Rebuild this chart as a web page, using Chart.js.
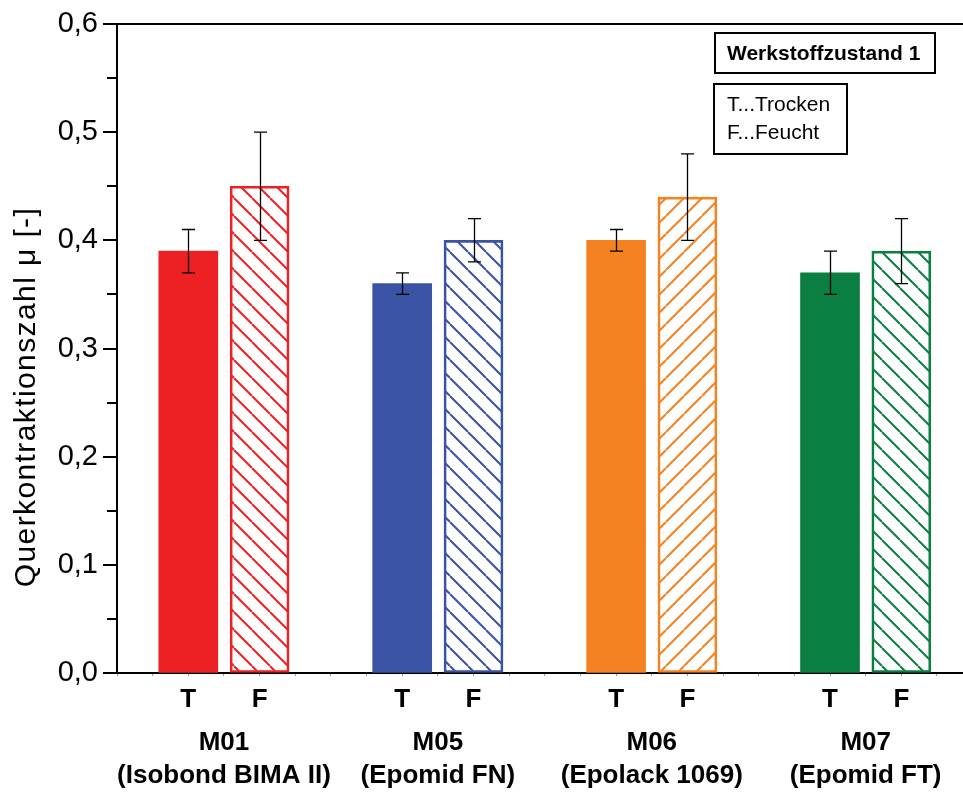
<!DOCTYPE html>
<html>
<head>
<meta charset="utf-8">
<script src="https://cdn.jsdelivr.net/npm/chart.js@4"></script>
<style>
html,body{margin:0;padding:0;background:#fff;}
#wrap{width:963px;height:793px;}
</style>
</head>
<body>
<div id="wrap"><canvas id="c" width="963" height="793"></canvas></div>
<script>
const categories = ['M01', 'M05', 'M06', 'M07'];
const materialNames = ['(Isobond BIMA II)', '(Epomid FN)', '(Epolack 1069)', '(Epomid FT)'];
const conditions = ['T', 'F'];
const trockenValues = [0.39, 0.36, 0.40, 0.37];
const trockenErrors = [0.02, 0.01, 0.01, 0.02];
const feuchtValues = [0.45, 0.40, 0.44, 0.39];
const feuchtErrors = [0.05, 0.02, 0.04, 0.03];
const yTickValues = [0, 0.1, 0.2, 0.3, 0.4, 0.5, 0.6];
const legendTitle = 'Werkstoffzustand 1';
const legendLines = ['T...Trocken', 'F...Feucht'];
const yTitle = 'Querkontraktionszahl \u03bc [-]';

const colors = ['#ED2024', '#3A53A4', '#F58220', '#0B7F42'];
const hatchDir = ['\\', '\\', '/', '\\'];
const FONT = "'Liberation Sans', Arial, sans-serif";

function makeHatch(color, dir) {
  const s = 18;
  const c = document.createElement('canvas');
  c.width = s; c.height = s;
  const g = c.getContext('2d');
  g.strokeStyle = color;
  g.lineWidth = 2;
  g.beginPath();
  for (let k = -1; k <= 1; k++) {
    if (dir === '\\') { g.moveTo(k * s, 0); g.lineTo(k * s + s, s); }
    else { g.moveTo(k * s, s); g.lineTo(k * s + s, 0); }
  }
  g.stroke();
  return g.createPattern(c, 'repeat');
}

// positions on the linear x axis: group i, condition j
function xPos(i, j) { return 2 + 6 * i + 2 * j; }

const points = [], bg = [], bc = [], bw = [], errs = [];
categories.forEach((cat, i) => {
  points.push({x: xPos(i, 0), y: trockenValues[i]});
  bg.push(colors[i]); bc.push(colors[i]); bw.push(0); errs.push(trockenErrors[i]);
  points.push({x: xPos(i, 1), y: feuchtValues[i]});
  bg.push(makeHatch(colors[i], hatchDir[i])); bc.push(colors[i]); bw.push(2); errs.push(feuchtErrors[i]);
});

const labelAt = {};
categories.forEach((cat, i) => {
  conditions.forEach((cond, j) => { labelAt[xPos(i, j)] = cond; });
});

const errorBars = {
  id: 'errorBars',
  afterDatasetsDraw(chart) {
    const ctx = chart.ctx, xs = chart.scales.x, ys = chart.scales.y;
    ctx.save();
    ctx.strokeStyle = '#000';
    ctx.lineWidth = 1.3;
    points.forEach((p, k) => {
      const px = Math.round(xs.getPixelForValue(p.x)) + 0.5;
      const yt = ys.getPixelForValue(p.y + errs[k]);
      const yb = ys.getPixelForValue(p.y - errs[k]);
      ctx.beginPath();
      ctx.moveTo(px, yt); ctx.lineTo(px, yb);
      ctx.moveTo(px - 6.5, yt); ctx.lineTo(px + 6.5, yt);
      ctx.moveTo(px - 6.5, yb); ctx.lineTo(px + 6.5, yb);
      ctx.stroke();
    });
    ctx.restore();
  }
};

const decorations = {
  id: 'decorations',
  afterDraw(chart) {
    const ctx = chart.ctx, xs = chart.scales.x, ys = chart.scales.y;
    const a = chart.chartArea;
    ctx.save();
    ctx.strokeStyle = '#000';
    ctx.lineWidth = 2;
    // top border
    ctx.beginPath();
    ctx.moveTo(a.left - 14, a.top); ctx.lineTo(a.right, a.top);
    ctx.stroke();
    // y ticks (major and minor)
    for (let v = 0; v <= 0.6001; v += 0.05) {
      const py = Math.round(ys.getPixelForValue(v));
      const major = Math.abs(Math.round(v * 10) - v * 10) < 1e-6;
      ctx.beginPath();
      ctx.moveTo(a.left - (major ? 14 : 10), py);
      ctx.lineTo(a.left, py);
      ctx.stroke();
    }
    ctx.fillStyle = '#000';
    // y title
    ctx.save();
    ctx.translate(27, 397);
    ctx.rotate(-Math.PI / 2);
    ctx.textAlign = 'center';
    ctx.textBaseline = 'middle';
    ctx.font = '30px ' + FONT;
    try { ctx.letterSpacing = '1.4px'; } catch (e) {}
    ctx.fillText(yTitle, 0, 0);
    ctx.restore();
    // group labels
    ctx.textAlign = 'center';
    ctx.textBaseline = 'middle';
    ctx.font = 'bold 26px ' + FONT;
    categories.forEach((cat, i) => {
      const px = xs.getPixelForValue((xPos(i, 0) + xPos(i, 1)) / 2);
      ctx.fillText(cat, px, 743);
      ctx.fillText(materialNames[i], px, 776);
    });
    // legend boxes
    ctx.lineWidth = 2;
    ctx.strokeRect(715, 33, 220, 40);
    ctx.font = 'bold 21px ' + FONT;
    ctx.textAlign = 'left';
    ctx.fillText(legendTitle, 727, 54);
    ctx.strokeRect(714, 84, 133, 70);
    ctx.font = '21px ' + FONT;
    ctx.fillText(legendLines[0], 727, 105);
    ctx.fillText(legendLines[1], 727, 133);
    ctx.restore();
  }
};

new Chart(document.getElementById('c'), {
  type: 'bar',
  data: {
    datasets: [{
      data: points,
      backgroundColor: bg,
      borderColor: bc,
      borderWidth: bw,
      borderSkipped: false,
      barThickness: 59
    }]
  },
  options: {
    responsive: false,
    animation: false,
    events: [],
    layout: {padding: {top: 24, right: 0, bottom: 0, left: 0}},
    plugins: {legend: {display: false}, tooltip: {enabled: false}},
    scales: {
      x: {
        type: 'linear',
        offset: false,
        min: 0,
        max: 23.73,
        afterFit(s) { s.height = 120; s.paddingLeft = 0; s.paddingRight = 0; },
        grid: {drawOnChartArea: false, drawTicks: true, tickLength: 3, color: '#999', lineWidth: 1, offset: false},
        border: {display: true, color: '#000', width: 2},
        ticks: {
          stepSize: 1,
          includeBounds: false,
          autoSkip: false,
          maxRotation: 0,
          padding: 8,
          color: '#000',
          font: {family: FONT, size: 26, weight: 'bold'},
          callback: (v) => labelAt[v] || ''
        }
      },
      y: {
        min: 0,
        max: 0.6,
        afterFit(s) { s.width = 117; s.paddingTop = 0; s.paddingBottom = 0; },
        afterBuildTicks(s) { s.ticks = yTickValues.map(v => ({value: v})); },
        grid: {drawOnChartArea: false, drawTicks: false},
        border: {display: true, color: '#000', width: 2},
        ticks: {
          padding: 19,
          color: '#000',
          font: {family: FONT, size: 29},
          callback: (v) => v.toFixed(1).replace('.', ',')
        },
        title: {display: false}
      }
    }
  },
  plugins: [errorBars, decorations]
});
</script>
</body>
</html>
